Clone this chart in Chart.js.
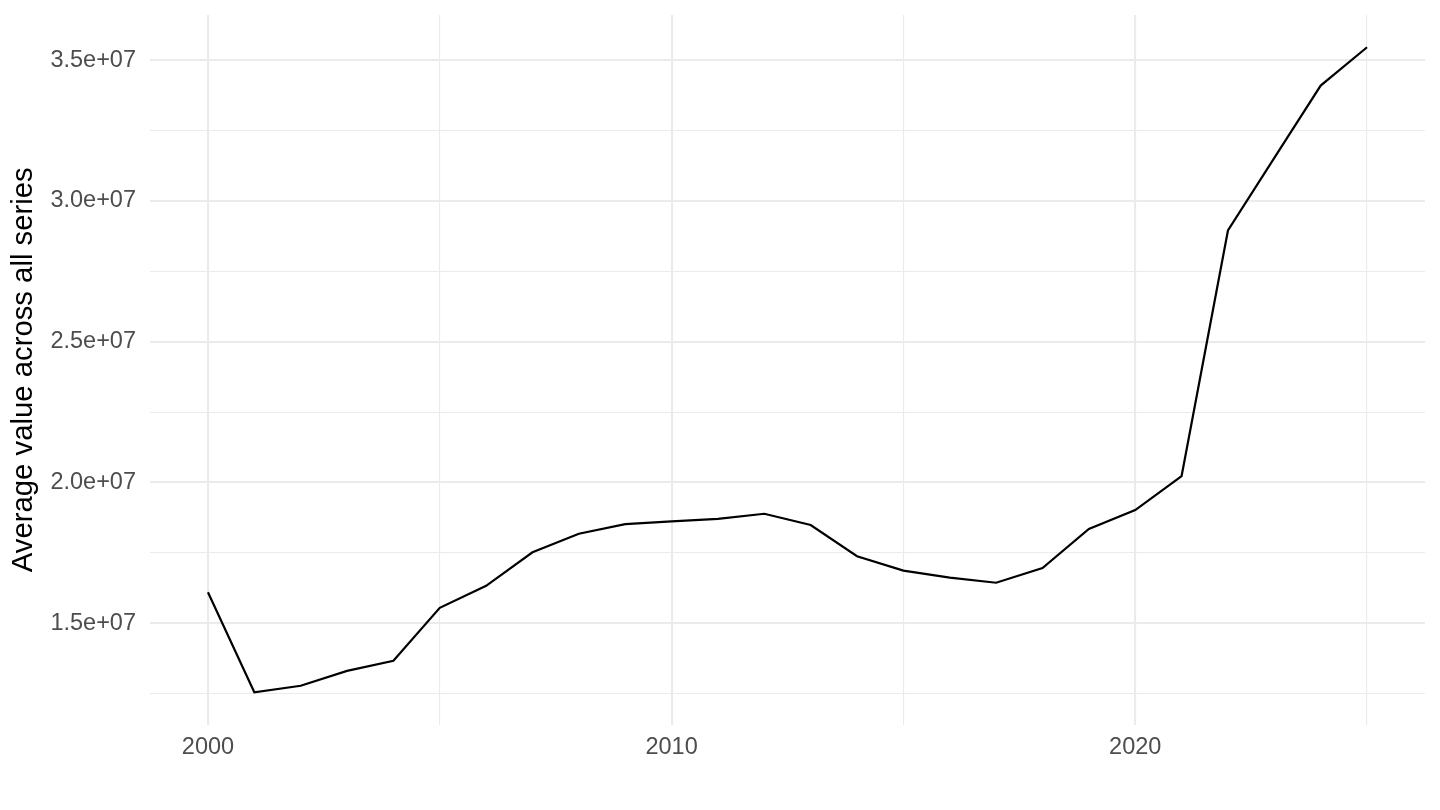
<!DOCTYPE html>
<html>
<head>
<meta charset="utf-8">
<script src="https://cdn.jsdelivr.net/npm/chart.js@4/dist/chart.umd.min.js"></script>
<style>
  html, body { margin: 0; padding: 0; background: #ffffff; }
  #wrap { width: 1440px; height: 810px; }
</style>
</head>
<body>
<div id="wrap"><canvas id="c" width="1440" height="810"></canvas></div>
<script>
const years = [2000, 2001, 2002, 2003, 2004, 2005, 2006, 2007, 2008, 2009, 2010, 2011, 2012,
               2013, 2014, 2015, 2016, 2017, 2018, 2019, 2020, 2021, 2022, 2023, 2024, 2025];
const avgValues = [16100000, 12550000, 12780000, 13310000, 13670000, 15550000, 16330000, 17520000,
                   18180000, 18520000, 18620000, 18710000, 18890000, 18490000, 17380000, 16870000,
                   16620000, 16440000, 16960000, 18350000, 19020000, 20230000, 28950000, 31530000,
                   34100000, 35460000];
const xTickValues = [2000, 2005, 2010, 2015, 2020, 2025];
const xLabelValues = [2000, 2010, 2020];
const yTickValues = [12500000, 15000000, 17500000, 20000000, 22500000, 25000000, 27500000, 30000000, 32500000, 35000000];
const yLabelValues = [15000000, 20000000, 25000000, 30000000, 35000000];
const yTitle = 'Average value across all series';

function sci(v) {
  const exp = Math.floor(Math.log10(Math.abs(v)));
  const mant = v / Math.pow(10, exp);
  const e = (exp < 0 ? '-' : '+') + String(Math.abs(exp)).padStart(2, '0');
  return mant.toFixed(1) + 'e' + e;
}

// ggplot-style 5% expansion
const xMin = Math.min(...years), xMax = Math.max(...years);
const xPad = (xMax - xMin) * 0.05;
const yMinD = Math.min(...avgValues), yMaxD = Math.max(...avgValues);
const yPad = (yMaxD - yMinD) * 0.05;

const FONT = '"Liberation Sans", Arial, Helvetica, sans-serif';

new Chart(document.getElementById('c'), {
  type: 'line',
  data: {
    datasets: [{
      data: years.map((y, i) => ({ x: y, y: avgValues[i] })),
      borderColor: '#000000',
      borderWidth: 2.2,
      pointRadius: 0,
      tension: 0,
      fill: false
    }]
  },
  options: {
    responsive: false,
    animation: false,
    devicePixelRatio: 1,
    layout: { padding: { top: 15, right: 15, left: 0, bottom: 0 } },
    plugins: { legend: { display: false }, tooltip: { enabled: false } },
    scales: {
      x: {
        type: 'linear',
        min: xMin - xPad,
        max: xMax + xPad,
        afterBuildTicks: (s) => { s.ticks = xTickValues.map(v => ({ value: v })); },
        afterFit: (s) => { s.height = 85.5; s.paddingLeft = 0; s.paddingRight = 0; },
        border: { display: false },
        grid: {
          drawTicks: false,
          color: '#EBEBEB',
          lineWidth: (ctx) => (ctx.tick && xLabelValues.includes(ctx.tick.value)) ? 2.1 : 1.1
        },
        ticks: {
          padding: 9,
          color: '#4D4D4D',
          font: { family: FONT, size: 23.5 },
          maxRotation: 0,
          autoSkip: false,
          callback: (v) => xLabelValues.includes(v) ? String(v) : ''
        }
      },
      y: {
        type: 'linear',
        min: yMinD - yPad,
        max: yMaxD + yPad,
        afterBuildTicks: (s) => { s.ticks = yTickValues.map(v => ({ value: v })); },
        afterFit: (s) => { s.width = 150; s.paddingTop = 0; s.paddingBottom = 0; },
        border: { display: false },
        grid: {
          drawTicks: false,
          color: '#EBEBEB',
          lineWidth: (ctx) => (ctx.tick && yLabelValues.includes(ctx.tick.value)) ? 2.1 : 1.1
        },
        ticks: {
          padding: 14,
          color: '#4D4D4D',
          font: { family: FONT, size: 23.5 },
          autoSkip: false,
          callback: (v) => yLabelValues.includes(v) ? sci(v) : ''
        },
        title: {
          display: true,
          text: yTitle,
          color: '#000000',
          font: { family: FONT, size: 29.3 },
          padding: { top: 6, bottom: 0 }
        }
      }
    }
  }
});
</script>
</body>
</html>
